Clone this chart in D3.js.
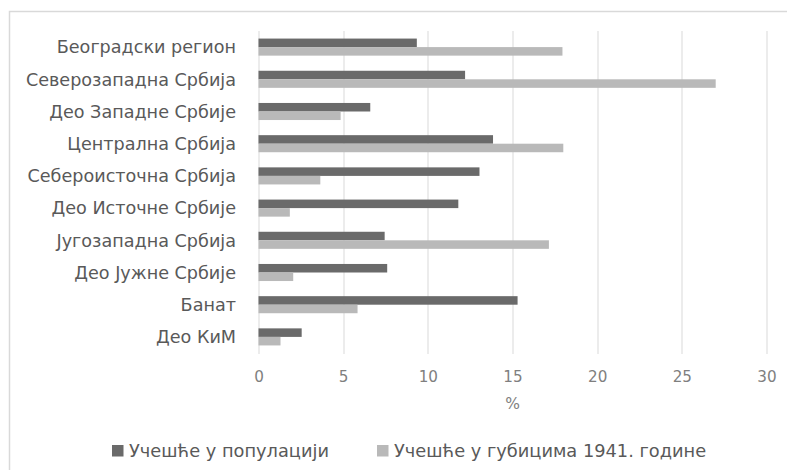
<!DOCTYPE html>
<html>
<head>
<meta charset="utf-8">
<script src="https://cdn.jsdelivr.net/npm/d3@7/dist/d3.min.js"></script>
<style>
  body { margin: 0; background: #fff; }
  svg { font-family: "DejaVu Sans", sans-serif; }
</style>
</head>
<body>
<div id="chart"></div>
<script>
// Data
var regions = [
  "Београдски регион", "Северозападна Србија", "Део Западне Србије",
  "Централна Србија", "Себероисточна Србија", "Део Источне Србије",
  "Југозападна Србија", "Део Јужне Србије", "Банат", "Део КиМ"
];
var population = [9.35, 12.2, 6.6, 13.85, 13.05, 11.8, 7.45, 7.6, 15.3, 2.55];
var losses1941 = [17.95, 27.0, 4.85, 18.0, 3.65, 1.85, 17.15, 2.05, 5.85, 1.3];
var xTicks = [0, 5, 10, 15, 20, 25, 30];
var seriesNames = ["Учешће у популацији", "Учешће у губицима 1941. године"];
var colors = ["#6a6a6a", "#b9b9b9"];

var W = 787, H = 470;
var margin = {top: 31, left: 258.5, right: 20.5, bottom: 117};
var width = W - margin.left - margin.right,
    height = H - margin.top - margin.bottom;

var svg = d3.select("#chart").append("svg")
    .attr("width", W)
    .attr("height", H);

// chart frame (cropped at right / bottom)
svg.append("path")
    .attr("d", "M9.5," + H + "V11.5H" + W)
    .attr("fill", "none")
    .attr("stroke", "#d9d9d9")
    .attr("stroke-width", 1.5);

var x = d3.scaleLinear().domain([0, 30]).range([0, width]);
var y = d3.scaleBand().domain(regions).range([0, height]).paddingInner(0.47).paddingOuter(0.235);
var sub = d3.scaleBand().domain([0, 1]).range([0, y.bandwidth()]);

var g = svg.append("g")
    .attr("transform", "translate(" + margin.left + "," + margin.top + ")");

// gridlines
g.append("g")
    .selectAll("line")
    .data(xTicks)
  .enter().append("line")
    .attr("x1", function(d) { return Math.round(x(d)) + 0.5; })
    .attr("x2", function(d) { return Math.round(x(d)) + 0.5; })
    .attr("y1", 0)
    .attr("y2", height + 1)
    .attr("stroke", "#d9d9d9")
    .attr("stroke-width", 1);

// bars
var series = [population, losses1941];
series.forEach(function(vals, si) {
  g.append("g")
      .selectAll("rect")
      .data(vals)
    .enter().append("rect")
      .attr("x", x(0))
      .attr("y", function(d, i) { return y(regions[i]) + sub(si); })
      .attr("width", function(d) { return x(d) - x(0); })
      .attr("height", sub.bandwidth())
      .attr("fill", colors[si]);
});

// y axis labels
var yAxis = d3.axisLeft(y).tickSize(0).tickPadding(22.5);
g.append("g")
    .call(yAxis)
    .call(function(a) { a.select(".domain").remove(); })
    .selectAll("text")
    .attr("fill", "#595959")
    .attr("dy", "0.36em")
    .style("font-size", "17.6px")
    .style("font-family", "DejaVu Sans, sans-serif");

// x axis labels
var xAxis = d3.axisBottom(x).tickValues(xTicks).tickSize(0).tickPadding(18);
g.append("g")
    .attr("transform", "translate(0," + height + ")")
    .call(xAxis)
    .call(function(a) { a.select(".domain").remove(); })
    .selectAll("text")
    .attr("fill", "#7f7f7f")
    .style("font-size", "15.2px")
    .style("font-family", "DejaVu Sans, sans-serif");

// axis title
g.append("text")
    .attr("x", width / 2)
    .attr("y", height + 56)
    .attr("text-anchor", "middle")
    .attr("fill", "#7f7f7f")
    .style("font-size", "15.5px")
    .text("%");

// legend
var legendX = [112, 377];
var legend = svg.append("g")
    .selectAll("g")
    .data(seriesNames)
  .enter().append("g")
    .attr("transform", function(d, i) { return "translate(" + legendX[i] + ",445)"; });

legend.append("rect")
    .attr("width", 11.5)
    .attr("height", 11.5)
    .attr("fill", function(d, i) { return colors[i]; });

legend.append("text")
    .attr("x", 17)
    .attr("y", 12)
    .attr("fill", "#595959")
    .style("font-size", "17.8px")
    .text(function(d) { return d; });
</script>
</body>
</html>
